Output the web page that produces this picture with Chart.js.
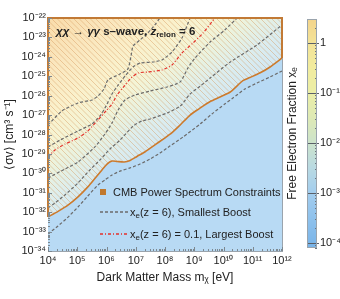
<!DOCTYPE html>
<html><head><meta charset="utf-8">
<script src="https://cdn.jsdelivr.net/npm/chart.js@4.4.1/dist/chart.umd.min.js"></script>
<style>
html,body{margin:0;padding:0;background:#fff;}
#wrap{position:relative;width:340px;height:299px;overflow:hidden;font-family:'Liberation Sans',Arial,sans-serif;color:#222;}
#main{position:absolute;left:0;top:0;}
#cbar{position:absolute;left:283px;top:0;}
.ov{position:absolute;white-space:nowrap;font-size:11px;line-height:12px;}
.ttl{font-weight:bold;font-size:11.5px;}
.ov sub{font-size:8px;vertical-align:-2px;line-height:0;}
</style></head><body>
<div id="wrap">
<canvas id="main" width="340" height="299"></canvas>
<canvas id="cbar" width="57" height="299"></canvas>
<div class="ov ttl" style="left:56px;top:25px"><i>χχ</i> → <i>γγ</i> s–wave, <i>z</i><sub>relon</sub> = 6</div>
<div class="ov" style="left:100px;top:189px;width:6px;height:6px;background:#c0782d"></div>
<div class="ov" style="left:113px;top:186px">CMB Power Spectrum Constraints</div>
<svg class="ov" style="left:100px;top:210px" width="28" height="4"><line x1="0" y1="2" x2="28" y2="2" stroke="#6b6b6b" stroke-width="1.3" stroke-dasharray="3 2"/></svg>
<div class="ov" style="left:130px;top:206px">x<sub>e</sub>(z = 6), Smallest Boost</div>
<svg class="ov" style="left:100px;top:232px" width="28" height="4"><line x1="0" y1="2" x2="28" y2="2" stroke="#e4312b" stroke-width="1.3" stroke-dasharray="3 2 1 2"/></svg>
<div class="ov" style="left:130px;top:228px">x<sub>e</sub>(z = 6) = 0.1, Largest Boost</div>
</div>
<script>
// ---------- data ----------
const massTicks  = [1e4,1e5,1e6,1e7,1e8,1e9,1e10,1e11,1e12];
const sigmaTicks = [1e-34,1e-33,1e-32,1e-31,1e-30,1e-29,1e-28,1e-27,1e-26,1e-25,1e-24,1e-23,1e-22];
const xeTicks    = [1e-4,1e-3,1e-2,1e-1,1];

const cmbMass  = [1e4,2.2e4,4.8e4,1.06e5,2.3e5,4.0e5,7.0e5,1.04e6,1.54e6,2.3e6,4.0e6,6.4e6,1.1e7,2.1e7,4.5e7,9.2e7,1.7e8,3.3e8,7.2e8,1.45e9,3.5e9,7.6e9,1.7e10,3.1e10,4.6e10,8.0e10,1.8e11,3.9e11,1e12];
const cmbSigma = [5.7e-33,1.1e-32,2.3e-32,6.1e-32,2.0e-31,5.4e-31,1.5e-30,3.0e-30,4.3e-30,4.1e-30,3.85e-30,4.6e-30,7.4e-30,1.3e-29,2.9e-29,6.2e-29,1.2e-28,3.1e-28,1.0e-27,2.1e-27,5.0e-27,8.6e-27,1.55e-26,3.5e-26,6.0e-26,8.6e-26,1.5e-25,3.0e-25,8.7e-25];

const smallAMass  = [1e4,3.0e4,1.06e5,3.2e5,5.1e5,8.2e5,1.12e6,2.9e6,5.4e6,6.9e6,8.1e6,1.4e7,2.6e7,4.5e7,6.7e7,8.6e7];
const smallASigma = [3.1e-28,1.63e-27,4.2e-27,6.0e-27,9.6e-27,2.2e-26,6.4e-26,1.31e-25,2.4e-25,1.1e-24,3.6e-24,7.4e-24,1.69e-23,4.4e-23,1.0e-22,1.6e-22];

const smallBMass  = [1e4,2.6e4,1.06e5,3.2e5,6.0e5,9.6e5,1.54e6,2.5e6,4.3e6,8.1e6,1.4e7,3.9e7,7.9e7,1.73e8,3.8e8,7.2e8,9.1e8];
const smallBSigma = [2.3e-29,5.2e-29,1.52e-28,3.5e-28,9.0e-28,2.9e-27,1.22e-26,3.5e-26,1.03e-25,3.0e-25,4.8e-25,5.4e-25,6.9e-25,1.77e-24,9.3e-24,1.0e-22,1.8e-22];

const smallCMass  = [1e4,3.8e4,1.06e5,4.0e5,8.9e5,1.54e6,2.5e6,4.3e6,9.4e6,3.1e7,1.17e8,3.3e8,6.1e8,1.06e9,3.5e9,1.1e10,3.7e10];
const smallCSigma = [5.8e-31,1.67e-30,3.8e-30,2.3e-29,1.07e-28,3.9e-28,1.83e-27,6.0e-27,1.08e-26,1.74e-26,2.8e-26,5.1e-26,2.7e-25,8.7e-25,5.8e-24,2.4e-23,1.4e-22];

const smallDMass  = [1e4,1.73e4,3.8e4,1.06e5,2.7e5,6.0e5,1.32e6,2.9e6,8.1e6,1.64e7,3.1e7,1.17e8,3.3e8,7.2e8,1.6e9,3.5e9,1.7e10,1.4e11,1e12];
const smallDSigma = [1.65e-32,2.98e-32,7.7e-32,3.2e-31,1.49e-30,4.9e-30,1.8e-29,5.2e-29,2.7e-28,5.0e-28,6.3e-28,1.28e-27,2.9e-27,1.22e-26,3.1e-26,8.1e-26,5.4e-25,4.1e-24,4.4e-23];

const smallEMass  = [1e4,2.2e4,4.5e4,1.06e5,2.3e5,5.1e5,8.9e5,1.54e6,2.9e6,6.4e6,1.4e7,3.1e7,6.7e7,1.5e8,4.1e8,1.6e9,4.0e9,1.1e10,2.1e10,5.4e10,1.4e11,3.9e11,1e12];
const smallESigma = [7.6e-34,1.95e-33,5.0e-33,1.85e-32,6.8e-32,2.5e-31,4.6e-31,8.2e-31,1.3e-30,1.9e-30,3.0e-30,5.5e-30,1.1e-29,2.6e-29,7.4e-29,3.5e-28,1.14e-27,3.7e-27,7.6e-27,2.2e-26,4.5e-26,9.2e-26,1.87e-25];

const largeMass  = [1e4,1.73e4,3.8e4,1.06e5,2.3e5,5.1e5,9.6e5,1.54e6,2.3e6,4.3e6,6.9e6,1.19e7,2.6e7,7.9e7,1.73e8,3.8e8,9.1e8,2.0e9,5.1e9,7.6e9];
const largeSigma = [6.9e-30,1.6e-29,3.2e-29,6.6e-29,1.52e-28,5.6e-28,1.63e-27,3.7e-27,1.08e-26,3.5e-26,8.1e-26,1.47e-25,1.66e-25,2.1e-25,3.8e-25,1.58e-24,5.2e-24,1.69e-23,1.0e-22,2.0e-22];

const xeMin = 7.9e-5, xeMax = 3.0;
const cbStopValues = [7.9e-5,1e-4,3e-4,1e-3,3e-3,1e-2,3e-2,1e-1,3e-1,1,3];
const cbStopColors = ['#76b2e8','#7cb6e9','#8ec1ec','#a3cdee','#b8d9e3','#cce3cb','#dde9b6','#ebeea6','#f1ec9f','#f3e398','#f3d48c'];

// ---------- helpers ----------
Chart.defaults.font.family = "'Liberation Sans', Arial, sans-serif";
Chart.defaults.color = '#222';
const SUP = {'0':'⁰','1':'¹','2':'²','3':'³','4':'⁴','5':'⁵','6':'⁶','7':'⁷','8':'⁸','9':'⁹','-':'⁻'};
function isPow10(v){ const l = Math.log10(v); return Math.abs(l - Math.round(l)) < 1e-6; }
function pow10Label(v){
  if (!isPow10(v)) return '';
  const e = Math.round(Math.log10(v));
  if (e === 0) return '1';
  return '10' + String(e).split('').map(c => SUP[c]).join('');
}
function logTicks(majors, min, max){
  const t = [];
  const e0 = Math.round(Math.log10(majors[0])) - 1, e1 = Math.round(Math.log10(majors[majors.length-1]));
  for (let e = e0; e <= e1; e++) for (let k = 1; k <= 9; k++) {
    const v = parseFloat(k + 'e' + e);
    if (v >= min*0.9999 && v <= max*1.0001) t.push({value: v, major: k === 1});
  }
  return t;
}
const pts = (xs, ys) => xs.map((x, i) => ({x, y: ys[i]}));

function makeHatch(){
  const s = 11, c = document.createElement('canvas');
  c.width = s; c.height = s;
  const g = c.getContext('2d');
  g.strokeStyle = 'rgba(214,152,92,0.55)'; g.lineWidth = 0.8;
  for (const o of [-11,-5.5,0,5.5,11]) { g.beginPath(); g.moveTo(o,0); g.lineTo(o+s,s); g.stroke(); }
  return g.createPattern(c, 'repeat');
}

const bgStops = [[0,'#f9dcaa'],[0.12,'#fae6bd'],[0.24,'#faf1cc'],[0.32,'#f4f4d6'],[0.38,'#e9f2e0'],[0.45,'#dcedee'],[0.52,'#d2e8f4'],[1,'#c8e3f6']];
const bgPlugin = {
  id: 'bg',
  beforeDraw(chart){
    const {ctx, chartArea: a} = chart;
    const L = 330;
    const g = ctx.createLinearGradient(a.left, a.top, a.left + 0.6*L, a.top + 0.8*L);
    bgStops.forEach(([p, c]) => g.addColorStop(p, c));
    ctx.save(); ctx.fillStyle = g; ctx.fillRect(a.left, a.top, a.right - a.left, a.bottom - a.top); ctx.restore();
  }
};
const innerTicks = {
  id: 'innerTicks',
  afterDatasetsDraw(chart){
    const {ctx, chartArea: a} = chart;
    ctx.save(); ctx.strokeStyle = '#7d8890'; ctx.lineWidth = 1;
    const sx = chart.scales.x, sy = chart.scales.y;
    for (const t of sx.ticks) {
      const p = Math.round(sx.getPixelForValue(t.value)) + 0.5, len = isPow10(t.value) ? 4 : 2;
      ctx.beginPath(); ctx.moveTo(p, a.bottom); ctx.lineTo(p, a.bottom - len); ctx.stroke();
    }
    for (const t of sy.ticks) {
      const p = Math.round(sy.getPixelForValue(t.value)) + 0.5, len = isPow10(t.value) ? 4 : 2;
      ctx.beginPath(); ctx.moveTo(a.left, p); ctx.lineTo(a.left + len, p); ctx.stroke();
    }
    ctx.restore();
  }
};

const hatch = makeHatch();
const TEN = 0.25;
const line = (label, xs, ys, color, dash, width) => ({
  label, data: pts(xs, ys), showLine: true, pointRadius: 0, borderColor: color,
  borderWidth: width, borderDash: dash, fill: false, tension: 0.2, xAxisID: 'x', yAxisID: 'y'
});
const grayC = '#6b6b6b', grayDash = [3, 2];

const datasets = [
  Object.assign(line('CMB Power Spectrum Constraints', cmbMass, cmbSigma, '#cc7a2c', [], 1.6), {tension: TEN}),
  Object.assign(line('excluded edge', [cmbMass[0], cmbMass[0], cmbMass[cmbMass.length-1], cmbMass[cmbMass.length-1]],
                     [cmbSigma[0], sigmaTicks[sigmaTicks.length-1], sigmaTicks[sigmaTicks.length-1], cmbSigma[cmbSigma.length-1]], '#c27a35', [], 2), {tension: 0, clip: false}),
  line('xe(z=6) = 0.1, Largest Boost', largeMass, largeSigma, '#e4312b', [3,2,1,2], 1.2),
  line('xe A', smallAMass, smallASigma, grayC, grayDash, 1.2),
  line('xe B', smallBMass, smallBSigma, grayC, grayDash, 1.2),
  line('xe C', smallCMass, smallCSigma, grayC, grayDash, 1.2),
  line('xe D', smallDMass, smallDSigma, grayC, grayDash, 1.2),
  line('xe E', smallEMass, smallESigma, grayC, grayDash, 1.2),
  Object.assign(line('excluded hatch', cmbMass, cmbSigma, 'rgba(0,0,0,0)', [], 0), {tension: TEN, fill: 'end', backgroundColor: hatch}),
  Object.assign(line('allowed', cmbMass, cmbSigma, 'rgba(0,0,0,0)', [], 0), {tension: TEN, fill: 'start', backgroundColor: '#b8daf4'})
];

new Chart(document.getElementById('main'), {
  type: 'scatter',
  data: {datasets},
  options: {
    responsive: false, animation: false,
    layout: {padding: {left: 0, top: 18, right: 58, bottom: 0}},
    plugins: {legend: {display: false}, tooltip: {enabled: false}, filler: {drawTime: 'beforeDatasetsDraw'}},
    scales: {
      x: {
        type: 'logarithmic', position: 'bottom', min: massTicks[0], max: massTicks[massTicks.length-1],
        afterBuildTicks: s => { s.ticks = logTicks(massTicks, massTicks[0], massTicks[massTicks.length-1]); },
        ticks: {autoSkip: false, maxRotation: 0, minRotation: 0, padding: 3, font: {size: 11}, color: '#222', callback: v => pow10Label(v)},
        grid: {display: false, drawTicks: false}, border: {display: true, color: '#9aa4ad'},
        title: {display: true, text: 'Dark Matter Mass mᵪ [eV]', font: {size: 12}, color: '#222', padding: {top: 0, bottom: 14}},
        afterFit: s => { s.height = 48; }
      },
      y: {
        type: 'logarithmic', position: 'left', min: sigmaTicks[0], max: sigmaTicks[sigmaTicks.length-1],
        afterBuildTicks: s => { s.ticks = logTicks(sigmaTicks, sigmaTicks[0], sigmaTicks[sigmaTicks.length-1]); },
        ticks: {autoSkip: false, padding: 2, font: {size: 11}, color: '#222', callback: v => pow10Label(v)},
        grid: {display: false, drawTicks: false}, border: {display: true, color: '#9aa4ad'},
        title: {display: true, text: '⟨σv⟩ [cm³ s⁻¹]', font: {size: 12}, color: '#222', padding: {top: 2, bottom: 0}},
        afterFit: s => { s.width = 48; }
      },
      yR: {
        type: 'logarithmic', position: 'right', min: sigmaTicks[0], max: sigmaTicks[sigmaTicks.length-1],
        ticks: {display: false}, grid: {display: false, drawTicks: false}, border: {display: true, color: '#9aa4ad'},
        afterFit: s => { s.width = 0; }
      }
    }
  },
  plugins: [bgPlugin, innerTicks]
});

// ---------- colour bar ----------
const cbTicks = {
  id: 'cbTicks',
  afterDatasetsDraw(chart){
    const {ctx, chartArea: a} = chart, s = chart.scales.y;
    ctx.save(); ctx.lineWidth = 1;
    for (const t of s.ticks) {
      const p = Math.round(s.getPixelForValue(t.value)) + 0.5;
      ctx.beginPath();
      if (isPow10(t.value)) { ctx.strokeStyle = '#5a6068'; ctx.moveTo(a.left, p); ctx.lineTo(a.right + 2, p); }
      else { ctx.strokeStyle = '#6c747c'; ctx.moveTo(a.right - 2, p); ctx.lineTo(a.right, p); }
      ctx.stroke();
    }
    ctx.strokeStyle = '#9aa4ad';
    ctx.strokeRect(a.left + 0.5, a.top + 0.5, a.right - a.left - 1, a.bottom - a.top - 1);
    ctx.restore();
  }
};
new Chart(document.getElementById('cbar'), {
  type: 'bar',
  data: {labels: ['xe'], datasets: [{
    data: [[xeMin, xeMax]], borderWidth: 0, barPercentage: 1, categoryPercentage: 1, xAxisID: 'x', yAxisID: 'y',
    backgroundColor: (c) => {
      const ch = c.chart, a = ch.chartArea, s = ch.scales.y;
      if (!a || !s) return '#cce3cb';
      const g = ch.ctx.createLinearGradient(0, a.bottom, 0, a.top);
      cbStopValues.forEach((v, i) => {
        const p = (a.bottom - s.getPixelForValue(v)) / (a.bottom - a.top);
        g.addColorStop(Math.min(1, Math.max(0, p)), cbStopColors[i]);
      });
      return g;
    }
  }]},
  options: {
    responsive: false, animation: false,
    layout: {padding: {left: 0, right: 0, top: 19, bottom: 51}},
    plugins: {legend: {display: false}, tooltip: {enabled: false}},
    scales: {
      x: {display: false},
      yt: {
        type: 'logarithmic', position: 'left', min: xeMin, max: xeMax,
        ticks: {display: false}, grid: {display: false, drawTicks: false}, border: {display: false},
        title: {display: true, text: 'Free Electron Fraction xₑ', font: {size: 12}, color: '#222', padding: {top: 2, bottom: 0}},
        afterFit: s => { s.width = 24; }
      },
      y: {
        type: 'logarithmic', position: 'right', min: xeMin, max: xeMax,
        afterBuildTicks: s => { s.ticks = logTicks(xeTicks, xeMin, xeMax); },
        ticks: {autoSkip: false, padding: 3, font: {size: 11}, color: '#222', callback: v => pow10Label(v)},
        grid: {display: false, drawTicks: false}, border: {display: false},
        afterFit: s => { s.width = 23; }
      }
    }
  },
  plugins: [cbTicks]
});
</script>
</body></html>
